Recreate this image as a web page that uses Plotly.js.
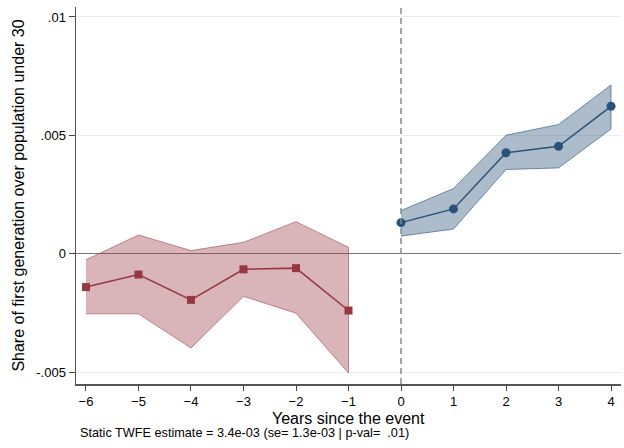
<!DOCTYPE html>
<html>
<head>
<meta charset="utf-8">
<script src="https://cdn.plot.ly/plotly-3.0.1.min.js"></script>
<style>
  html, body { margin: 0; padding: 0; background: #fff; }
  #chart { width: 624px; height: 448px; }
</style>
</head>
<body>
<div id="chart"></div>
<script>
// Event-study estimates: pre-period (leads) and post-period (lags)
const preYears = [-6, -5, -4, -3, -2, -1];
const preCoef  = [-0.00140, -0.00087, -0.00194, -0.00065, -0.00060, -0.00239];
const preUpper = [-0.00025, 0.00080, 0.00014, 0.00049, 0.00136, 0.00028];
const preLower = [-0.00253, -0.00253, -0.00397, -0.00179, -0.00250, -0.00503];

const postYears = [0, 1, 2, 3, 4];
const postCoef  = [0.00132, 0.00190, 0.00427, 0.00454, 0.00623];
const postUpper = [0.00183, 0.00276, 0.00501, 0.00546, 0.00713];
const postLower = [0.00075, 0.00105, 0.00356, 0.00363, 0.00527];

const eventYear = [0];
const xTicks = [-6, -5, -4, -3, -2, -1, 0, 1, 2, 3, 4];
const yTickVals = [-0.005, 0, 0.005, 0.01];
const yTickText = ['-.005', '0', '.005', '.01'];
const xTitle = 'Years since the event';
const yTitle = 'Share of first generation over population under 30';
const noteText = 'Static TWFE estimate = 3.4e-03 (se= 1.3e-03 | p-val=  .01)';

const red = '#963844';
const blue = '#2b5279';

function band(xs, up, lo, fill, edge) {
  return {
    x: xs.concat(xs.slice().reverse()),
    y: up.concat(lo.slice().reverse()),
    type: 'scatter', mode: 'lines', fill: 'toself',
    fillcolor: fill, line: { color: edge, width: 1 },
    hoverinfo: 'skip', showlegend: false
  };
}

const traces = [
  band(preYears, preUpper, preLower, 'rgba(154,58,68,0.38)', 'rgba(154,58,68,0.55)'),
  band(postYears, postUpper, postLower, 'rgba(44,82,122,0.39)', 'rgba(44,82,122,0.6)'),
  {
    x: preYears, y: preCoef, type: 'scatter', mode: 'lines+markers',
    line: { color: red, width: 1.5 },
    marker: { symbol: 'square', size: 8, color: red },
    showlegend: false
  },
  {
    x: postYears, y: postCoef, type: 'scatter', mode: 'lines+markers',
    line: { color: blue, width: 1.5 },
    marker: { symbol: 'circle', size: 9, color: blue },
    showlegend: false
  }
];

const fam = 'Liberation Sans, Arial, sans-serif';
const font = { family: fam, color: '#000' };

const layout = {
  width: 624, height: 448,
  margin: { l: 76, r: 3, t: 7, b: 64 },
  paper_bgcolor: '#fff', plot_bgcolor: '#fff',
  font: font,
  showlegend: false,
  xaxis: {
    range: [-6.19, 4.19],
    tickvals: xTicks,
    ticks: 'outside', ticklen: 5, tickcolor: '#444', tickwidth: 1,
    showline: true, linecolor: '#555', linewidth: 1.5,
    showgrid: false, zeroline: false,
    tickfont: { size: 13, family: fam, color: '#000' }
  },
  yaxis: {
    range: [-0.00549, 0.01042],
    tickvals: yTickVals, ticktext: yTickText,
    ticks: 'outside', ticklen: 6, tickcolor: '#444', tickwidth: 1,
    showline: true, linecolor: '#555', linewidth: 1.5,
    showgrid: true, gridcolor: '#ececec', gridwidth: 1,
    zeroline: true, zerolinecolor: '#777', zerolinewidth: 1,
    tickfont: { size: 13, family: fam, color: '#000' },
    title: { text: yTitle, font: { size: 16, family: fam, color: '#000' }, standoff: 7 }
  },
  shapes: eventYear.map(v => ({
    type: 'line', xref: 'x', yref: 'paper', x0: v, x1: v, y0: 0, y1: 1,
    line: { color: '#888', width: 1.5, dash: '6px,4px' }, layer: 'above'
  })),
  annotations: [
    {
      text: xTitle, xref: 'paper', yref: 'paper', x: 0.5, y: -0.089,
      xanchor: 'center', yanchor: 'middle', showarrow: false, height: 18,
      font: { size: 16, family: fam, color: '#000' }
    },
    {
      text: noteText, xref: 'paper', yref: 'paper', x: 0.004, y: -0.130,
      xanchor: 'left', yanchor: 'middle', showarrow: false, height: 14,
      font: { size: 12.7, family: fam, color: '#000' }
    }
  ]
};

Plotly.newPlot('chart', traces, layout, { displayModeBar: false, staticPlot: true });
</script>
</body>
</html>
